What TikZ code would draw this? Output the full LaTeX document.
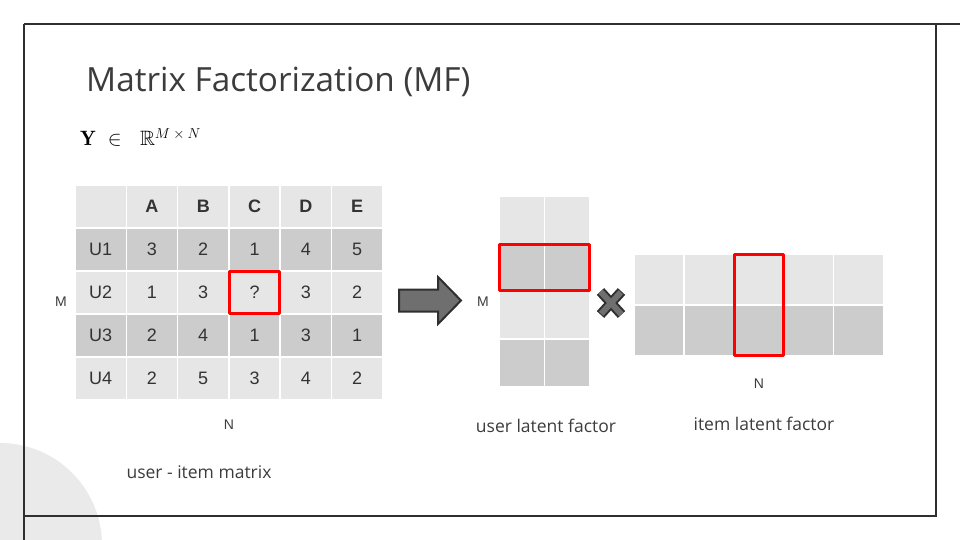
\documentclass[tikz,border=0pt]{standalone}
\usepackage{amsmath,amssymb}
\usepackage{fontspec}
\newfontfamily\uifont{Open Sans}
\newfontfamily\cellfont{Liberation Sans}
\definecolor{MFframe}{HTML}{2F2F2F}
\definecolor{MFlight}{HTML}{E6E6E6}
\definecolor{MFdark}{HTML}{CCCCCC}
\definecolor{MFtext}{HTML}{3C3C3C}
\definecolor{MFcell}{HTML}{333333}
\definecolor{MFred}{HTML}{FF0000}
\definecolor{MFarrow}{HTML}{6F6F6F}
\usetikzlibrary{positioning}

\begin{document}
\begin{tikzpicture}[x=1pt,y=-1pt,
  cell/.style={inner sep=0pt,minimum width=49.8pt,minimum height=41.5pt,font=\cellfont\fontsize{18}{21}\selectfont,text=MFcell},
  lt/.style={fill=MFlight},dk/.style={fill=MFdark},
  hd/.style={fill=MFlight,font=\cellfont\bfseries\fontsize{18}{21}\selectfont},
  ucell/.style={inner sep=0pt,minimum width=44pt,minimum height=46.2pt},
  icell/.style={inner sep=0pt,minimum width=48.4pt,minimum height=49.4pt},
  pick/.style={draw=MFred,line width=3pt,line join=round},
  lbl/.style={font=\uifont\fontsize{17.5}{21}\selectfont,text=MFtext,inner sep=0pt},
  dim/.style={font=\cellfont\fontsize{14}{16}\selectfont,text=MFtext,inner sep=0pt}]
  \useasboundingbox (0,0) rectangle (960,540);
  % slide decoration
  \fill[MFlight!85!white] (0,545) circle[radius=102];
  \draw[MFframe,line width=2.2pt] (24,24) -- (960,24) (24,24) -- (24,540) (936,24) -- (936,516) -- (24,516);
  \node[font=\uifont\fontsize{33.3}{40}\selectfont,text=MFtext,anchor=base west,inner sep=0pt] (title) at (86,92) {Matrix Factorization (MF)};
  \node[anchor=base west,inner sep=0pt,font=\fontsize{20.74}{24}\selectfont] (space) at (80,146) {$\mathbf{Y}\ \in\ \ \mathbb{R}^{\mbox{\fontsize{14.4}{16}\selectfont$M\times N$}}$};
  % user-item matrix
  \foreach \row/\sty/\entries in {0/hd/{,A,B,C,D,E},1/dk/{U1,3,2,1,4,5},2/lt/{U2,1,3,?,3,2},3/dk/{U3,2,4,1,3,1},4/lt/{U4,2,5,3,4,2}}
    \foreach \e [count=\col from 0] in \entries
      \node[cell,\sty] (y-\row-\col) at (100.65+51.3*\col,206.5+43*\row) {\e};
  \draw[pick] (y-2-3.north west) rectangle (y-2-3.south east);
  \node[dim] (mrow) at (61,302) {M};
  \node[dim] (ncol) at (229,425) {N};
  \node[lbl] (ylabel) at (199,472) {user - item matrix};
  % factorization arrow
  \draw[fill=MFarrow,draw=MFframe,line width=2pt,line join=miter] (399,289.5) -- (438,289.5) -- (438,277) -- (461,300.5) -- (438,324) -- (438,311.5) -- (399,311.5) -- cycle;
  % user latent factor
  \foreach \row/\sty in {0/lt,1/dk,2/lt,3/dk}
    \foreach \col in {0,1}
      \node[ucell,\sty] (u-\row-\col) at (521.8+45.4*\col,219.85+47.7*\row) {};
  \draw[pick] (u-1-0.north west) rectangle (u-1-1.south east);
  \node[dim] (murow) at (483,302) {M};
  \node[lbl] (ulabel) at (546,426) {user latent factor};
  % times sign
  \draw[MFframe,line width=10pt] (600.5,291.5) -- (621.5,314.5) (621.5,291.5) -- (600.5,314.5);
  \draw[MFarrow,line width=6pt,shorten <=1pt,shorten >=1pt] (600.5,291.5) -- (621.5,314.5) (621.5,291.5) -- (600.5,314.5);
  % item latent factor
  \foreach \row/\sty in {0/lt,1/dk}
    \foreach \col in {0,...,4}
      \node[icell,\sty] (i-\row-\col) at (659+49.9*\col,279.7+50.9*\row) {};
  \draw[pick] (i-0-2.north west) rectangle (i-1-2.south east);
  \node[dim,below=23pt of i-1-2] (nicol) {N};
  \node[lbl] (ilabel) at (764,424) {item latent factor};
\end{tikzpicture}
\end{document}
